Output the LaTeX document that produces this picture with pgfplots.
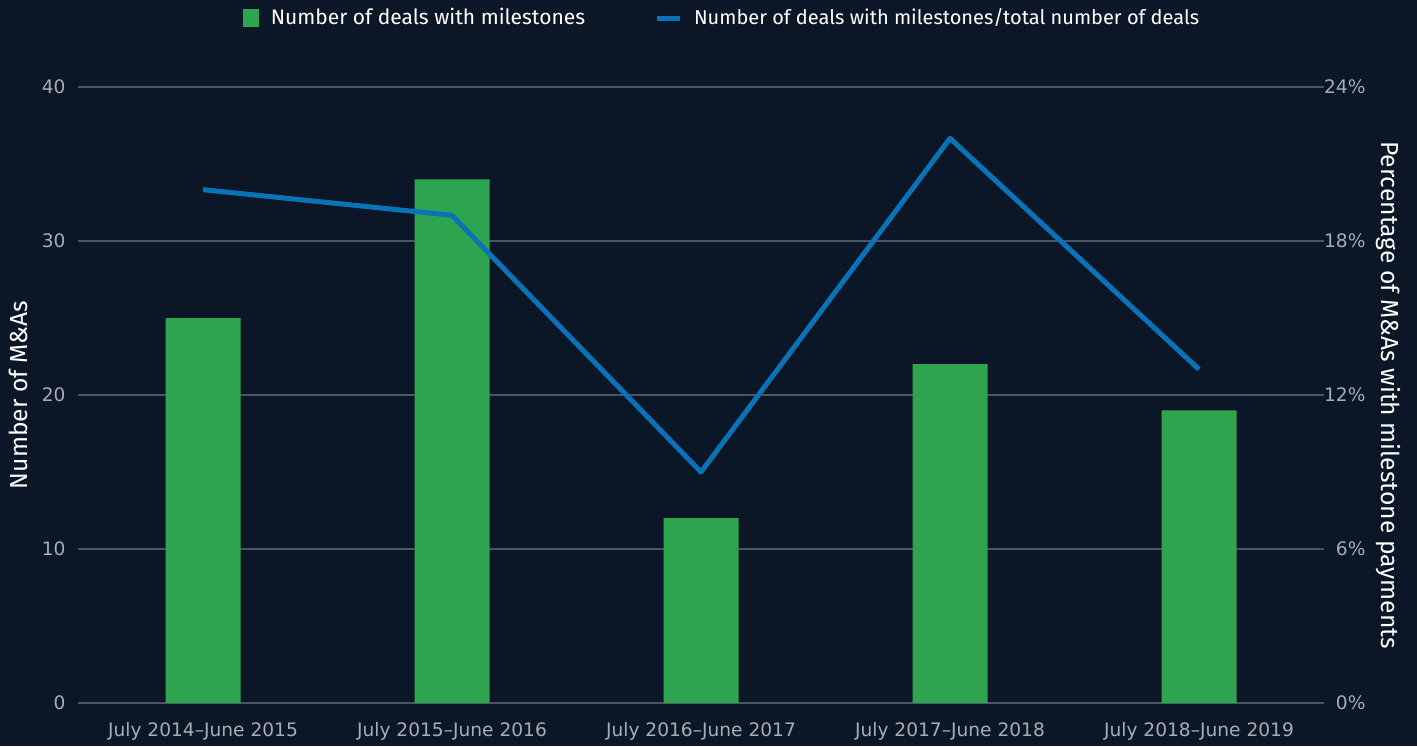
\documentclass[border=0pt]{standalone}
\usepackage{fontspec}
\setmainfont{Fira Sans}
\newfontfamily\tickfont[Ligatures=TeX]{DejaVu Sans}
\usepackage{pgfplots}
\pgfplotsset{compat=1.18}
\definecolor{bg}{HTML}{0B1727}
\definecolor{barg}{HTML}{2EA44F}
\definecolor{lineb}{HTML}{0A73B7}
\definecolor{gridc}{HTML}{4A5563}
\definecolor{tickc}{HTML}{A5ADB5}
\begin{document}
\begin{tikzpicture}[x=1pt,y=1pt]
\fill[bg] (0,0) rectangle (708.5,373);
\useasboundingbox (0,0) rectangle (708.5,373);
\begin{axis}[
  at={(39.25pt,21.5pt)}, anchor=south west,
  scale only axis, width=622.5pt, height=308pt,
  xmin=-0.5, xmax=4.5, ymin=0, ymax=40,
  ytick={0,10,20,30,40},
  xtick={0,1,2,3,4},
  xticklabels={July 2014--June 2015, July 2015--June 2016, July 2016--June 2017, July 2017--June 2018, July 2018--June 2019},
  axis line style={draw=none},
  major tick length=0pt,
  ymajorgrids, grid style={gridc, line width=0.7pt},
  tick label style={tickc, font=\tickfont\fontsize{9.3}{10}\selectfont},
  /pgf/number format/assume math mode=true,
  yticklabel style={xshift=-3pt},
  xticklabel style={yshift=-6pt},
  ylabel={Number of M\&As},
  ylabel style={at={(rel axis cs:0,0.5)}, anchor=center, yshift=30pt, white, font=\fontsize{12.3}{14}\selectfont},
  legend columns=2,
  legend style={at={(axis description cs:0.5,1)}, anchor=center, xshift=13pt, yshift=34.5pt,
    draw=none, fill=none, text=white, font=\fontsize{10.5}{12}\selectfont,
    nodes={inner xsep=6pt},
    /tikz/column 2/.style={column sep=28.5pt}},
]
\addplot[ybar, bar width=37.5pt, fill=barg, draw=none,
  legend image code/.code={\fill[barg] (0pt,-4.5pt) rectangle (8pt,4.5pt);}]
  coordinates {(0,25) (1,34) (2,12) (3,22) (4,19)};
\addlegendentry{Number of deals with milestones}
\addlegendimage{lineb, line width=2.5pt, legend image code/.code={\draw[lineb, line width=2.5pt] (0pt,0pt) -- (11.5pt,0pt);}}
\addlegendentry{\fontsize{10}{12}\selectfont Number of deals with milestones/total number of deals}
\end{axis}
\begin{axis}[
  at={(39.25pt,21.5pt)}, anchor=south west,
  scale only axis, width=622.5pt, height=308pt,
  xmin=-0.5, xmax=4.5, ymin=0, ymax=24,
  ytick={0,6,12,18,24},
  yticklabel={\pgfmathprintnumber{\tick}\%},
  axis y line*=right,
  hide x axis,
  axis line style={draw=none},
  major tick length=0pt,
  tick label style={tickc, font=\tickfont\fontsize{9.3}{10}\selectfont},
  /pgf/number format/assume math mode=true,
  yticklabel style={anchor=east, xshift=24.5pt},
  ylabel={Percentage of M\&As with milestone payments},
  ylabel style={at={(rel axis cs:1,0.5)}, anchor=center, rotate=180, yshift=32.5pt, white, font=\fontsize{12.3}{14}\selectfont},
]
\addplot[lineb, line width=2.5pt, line join=round] coordinates {(0,20) (1,19) (2,9) (3,22) (4,13)};
\end{axis}
\end{tikzpicture}
\end{document}
